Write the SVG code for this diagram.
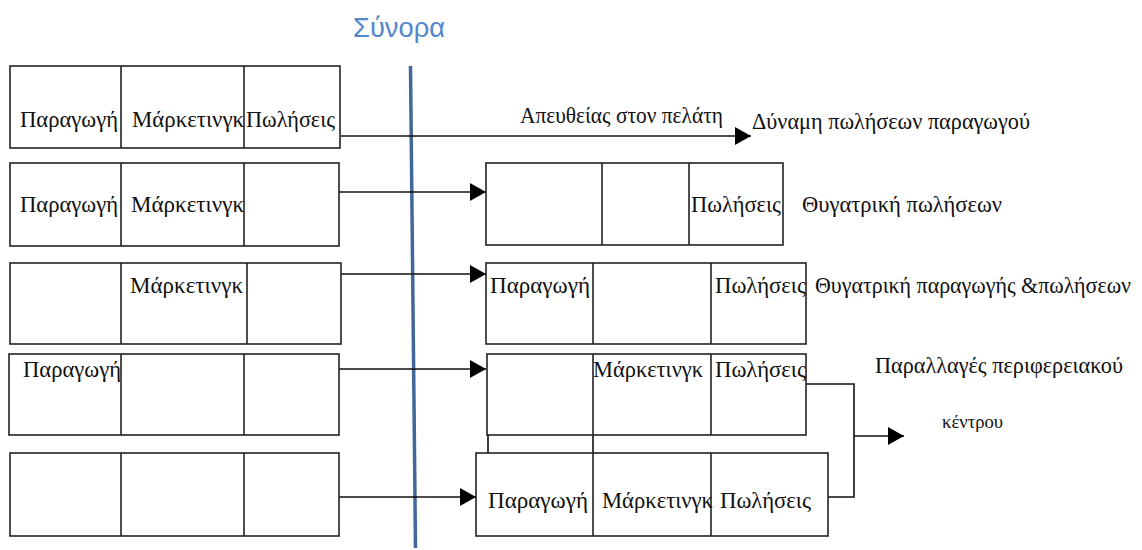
<svg xmlns="http://www.w3.org/2000/svg" width="1142" height="550" viewBox="0 0 1142 550">
<style>
.box{fill:#fff;stroke:#222;stroke-width:1.6}
.div{stroke:#222;stroke-width:1.6;fill:none}
.c{stroke:#111;stroke-width:1.6;fill:none}
</style>
<defs>
<marker id="ah" viewBox="0 0 16 18" refX="16" refY="9" markerWidth="16" markerHeight="18" markerUnits="userSpaceOnUse" orient="auto">
<path d="M0,0 L16,9 L0,18 Z" fill="#000"/>
</marker>
</defs>
<rect width="1142" height="550" fill="#fff"/>

<g id="title">
<text x="353" y="37" font-family="'Liberation Sans', sans-serif" font-size="28" fill="#5486cc" textLength="92" lengthAdjust="spacingAndGlyphs">Σύνορα</text>
</g>

<g id="border">
<line x1="410.5" y1="66" x2="415.5" y2="548" stroke="#41679b" stroke-width="3.5"/>
</g>

<g id="connectors">
<line class="c" x1="341" y1="136" x2="751" y2="136" marker-end="url(#ah)"/>
<line class="c" x1="339" y1="192" x2="486" y2="192" marker-end="url(#ah)"/>
<line class="c" x1="341" y1="274" x2="486" y2="274" marker-end="url(#ah)"/>
<line class="c" x1="339" y1="369" x2="486" y2="369" marker-end="url(#ah)"/>
<line class="c" x1="337" y1="497" x2="476" y2="497" marker-end="url(#ah)"/>
<polyline class="c" points="806,384 854,384 854,497 828,497"/>
<line class="c" x1="854" y1="436" x2="904" y2="436" marker-end="url(#ah)"/>
<line class="c" x1="488" y1="435" x2="488" y2="453"/>
<line class="c" x1="593" y1="435" x2="593" y2="453"/>
</g>

<g font-family="'Liberation Serif', 'DejaVu Serif', serif" font-size="24" fill="#111">

<g id="left1">
<rect class="box" x="10" y="66" width="330" height="82"/>
<line class="div" x1="121" y1="66" x2="121" y2="148"/>
<line class="div" x1="244" y1="66" x2="244" y2="148"/>
<text x="20" y="127" textLength="98" lengthAdjust="spacingAndGlyphs">Παραγωγή</text>
<text x="132" y="127" textLength="112" lengthAdjust="spacingAndGlyphs">Μάρκετινγκ</text>
<text x="246" y="127" textLength="89" lengthAdjust="spacingAndGlyphs">Πωλήσεις</text>
</g>

<g id="left2">
<rect class="box" x="10" y="163" width="329" height="83"/>
<line class="div" x1="121" y1="163" x2="121" y2="246"/>
<line class="div" x1="244" y1="163" x2="244" y2="246"/>
<text x="20" y="212" textLength="98" lengthAdjust="spacingAndGlyphs">Παραγωγή</text>
<text x="131" y="212" textLength="113" lengthAdjust="spacingAndGlyphs">Μάρκετινγκ</text>
</g>

<g id="left3">
<rect class="box" x="10" y="263" width="331" height="81"/>
<line class="div" x1="121" y1="263" x2="121" y2="344"/>
<line class="div" x1="247" y1="263" x2="247" y2="344"/>
<text x="130" y="293" textLength="113" lengthAdjust="spacingAndGlyphs">Μάρκετινγκ</text>
</g>

<g id="left4">
<rect class="box" x="9" y="354" width="330" height="81"/>
<line class="div" x1="121" y1="354" x2="121" y2="435"/>
<line class="div" x1="244" y1="354" x2="244" y2="435"/>
<text x="23" y="377" textLength="98" lengthAdjust="spacingAndGlyphs">Παραγωγή</text>
</g>

<g id="left5">
<rect class="box" x="10" y="453" width="329" height="83"/>
<line class="div" x1="121" y1="453" x2="121" y2="536"/>
<line class="div" x1="244" y1="453" x2="244" y2="536"/>
</g>

<g id="direct">
<text x="520" y="123" textLength="203" lengthAdjust="spacingAndGlyphs">Απευθείας στον πελάτη</text>
<text x="752" y="129" textLength="278" lengthAdjust="spacingAndGlyphs">Δύναμη πωλήσεων παραγωγού</text>
</g>

<g id="right2">
<rect class="box" x="486" y="163" width="297" height="82"/>
<line class="div" x1="602" y1="163" x2="602" y2="245"/>
<line class="div" x1="689" y1="163" x2="689" y2="245"/>
<text x="691" y="212" textLength="90" lengthAdjust="spacingAndGlyphs">Πωλήσεις</text>
<text x="802" y="212" textLength="200" lengthAdjust="spacingAndGlyphs">Θυγατρική πωλήσεων</text>
</g>

<g id="right3">
<rect class="box" x="486" y="263" width="320" height="81"/>
<line class="div" x1="593" y1="263" x2="593" y2="344"/>
<line class="div" x1="711" y1="263" x2="711" y2="344"/>
<text x="490" y="293" textLength="100" lengthAdjust="spacingAndGlyphs">Παραγωγή</text>
<text x="715" y="293" textLength="91" lengthAdjust="spacingAndGlyphs">Πωλήσεις</text>
<text x="815" y="293" textLength="316" lengthAdjust="spacingAndGlyphs">Θυγατρική παραγωγής &amp;πωλήσεων</text>
</g>

<g id="right4">
<rect class="box" x="487" y="354" width="319" height="81"/>
<line class="div" x1="593" y1="354" x2="593" y2="435"/>
<line class="div" x1="711" y1="354" x2="711" y2="435"/>
<text x="593" y="377" textLength="110" lengthAdjust="spacingAndGlyphs">Μάρκετινγκ</text>
<text x="715" y="377" textLength="91" lengthAdjust="spacingAndGlyphs">Πωλήσεις</text>
</g>

<g id="right5">
<rect class="box" x="476" y="453" width="352" height="83"/>
<line class="div" x1="593" y1="453" x2="593" y2="536"/>
<line class="div" x1="711" y1="453" x2="711" y2="536"/>
<text x="488" y="508" textLength="100" lengthAdjust="spacingAndGlyphs">Παραγωγή</text>
<text x="602" y="508" textLength="111" lengthAdjust="spacingAndGlyphs">Μάρκετινγκ</text>
<text x="720" y="508" textLength="91" lengthAdjust="spacingAndGlyphs">Πωλήσεις</text>
</g>

<g id="regional">
<text x="875" y="373" textLength="248" lengthAdjust="spacingAndGlyphs">Παραλλαγές περιφερειακού</text>
<text x="942" y="428" font-size="19" textLength="61" lengthAdjust="spacingAndGlyphs">κέντρου</text>
</g>

</g>
</svg>
